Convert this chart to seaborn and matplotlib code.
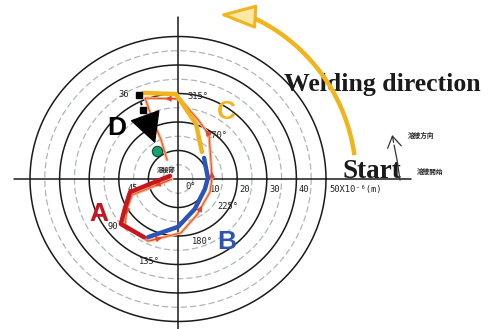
import numpy as np
import pandas as pd
import matplotlib
matplotlib.use("Agg")
import matplotlib.pyplot as plt
import seaborn as sns

# Pipe-centre displacement during one welding pass, in units of 1e-6 m
traj_x = [-2.0, -15.5, -17.2, -17.9, -10.1, 1.0, 6.4, 10.8, 11.5, 11.1, 10.5, 7.1, 0.7, -11.1, -8.8, -5.7, -3.7]
traj_y = [0.0, -5.6, -10.5, -16.1, -21.8, -18.9, -12.6, -4.6, 0.4, 6.7, 15.4, 20.4, 28.1, 28.4, 21.4, 13.7, 6.7]

# Stage A / B / C / D paths
a_x = [-2.7, -16.2, -17.9, -19.3, -11.5]
a_y = [1.1, -4.6, -10.2, -15.8, -20.4]
b_x = [-10.1, 0.0, 5.7, 9.1, 10.1, 8.8]
b_y = [-20.4, -16.8, -10.5, -3.5, 0.4, 7.4]
c_x = [8.1, 6.1, -0.7, -11.8]
c_y = [9.5, 19.3, 29.8, 30.2]
d_x = [-13.2, -11.8, -7.4]
d_y = [29.5, 24.2, 11.6]
end_x = [-7.1]
end_y = [9.8]

# Torch angle labels along the path
angle_labels = ["0°", "45", "90", "135°", "180°", "225°", "270°", "315°", "36"]
angle_lx = [4.1, -15.2, -22.2, -9.5, 8.1, 16.9, 13.2, 6.8, -18.2]
angle_ly = [-2.5, -3.2, -16.6, -29.1, -22.1, -9.5, 15.4, 28.8, 29.5]

ring_solid = [10, 20, 30, 40, 50]
ring_dashed = [5, 15, 25, 35, 45]
ring_labels = ["10", "20", "30", "40", "50X10⁻⁶(m)"]

sns.set_theme(style="white")
plt.rcParams['font.family'] = ['DejaVu Sans', 'Noto Sans CJK JP']

PX_X, PX_Y = 2.96, 2.85      # pixels per unit in x and y
CX, CY = 178, 179            # origin position in pixels
W, H = 492, 329

fig = plt.figure(figsize=(W / 100, H / 100), dpi=100)
ax = fig.add_axes([0, 0, 1, 1])
ax.set_xlim(-CX / PX_X, (W - CX) / PX_X)
ax.set_ylim(-(H - CY) / PX_Y, CY / PX_Y)
ax.axis('off')

# polar grid
th = np.linspace(0, 2 * np.pi, 500)
for r in ring_dashed:
    ax.plot(r * np.cos(th), r * np.sin(th), color='#aeb6bd', lw=0.9,
            ls=(0, (5, 2.5)), zorder=1)
for r in ring_solid:
    ax.plot(r * np.cos(th), r * np.sin(th), color='#1a1a1a', lw=1.1, zorder=1)
ax.plot([-55.4, 78.6], [0, 0], color='#1a1a1a', lw=1.1, zorder=2)
ax.plot([0, 0], [-53, 56.8], color='#1a1a1a', lw=1.1, zorder=2)

mono = dict(family='DejaVu Sans Mono', fontsize=6.3, color='#222222')
for r, lab in zip(ring_solid, ring_labels):
    if lab.startswith('50'):
        ax.text(r + 1.0, -3.6, lab, ha='left', va='center', **mono)
    else:
        ax.text(r + 2.6, -3.6, lab, ha='center', va='center', **mono)
for lab, x, y in zip(angle_labels, angle_lx, angle_ly):
    ax.text(x, y, lab, ha='center', va='center', **mono)
ax.text(-4.1, 3.4, "溶接部", ha='center', va='center', fontsize=4.5,
        family=['Noto Sans CJK JP', 'DejaVu Sans'], color='#222222', weight='bold')

# measured trajectory
traj = pd.DataFrame({'x': traj_x, 'y': traj_y})
sns.lineplot(data=traj, x='x', y='y', sort=False, estimator=None, ax=ax,
             color='#f6b27c', lw=2.2, zorder=3)
sns.lineplot(data=traj, x='x', y='y', sort=False, estimator=None, ax=ax,
             color='#e2452b', lw=0.6, zorder=4)
for i in range(0, len(traj_x) - 1, 2):
    mx = (traj_x[i] + traj_x[i + 1]) / 2
    my = (traj_y[i] + traj_y[i + 1]) / 2
    ax.annotate('', xy=(mx, my), xytext=(traj_x[i], traj_y[i]),
                arrowprops=dict(arrowstyle='-|>,head_length=0.35,head_width=0.18',
                                color='#e2452b', lw=0.6, mutation_scale=10),
                zorder=4)

# stage segments
for sx, sy, col in [(a_x, a_y, '#c8161f'), (b_x, b_y, '#2b56b8'), (c_x, c_y, '#f2b41d')]:
    sns.lineplot(x=sx, y=sy, sort=False, estimator=None, ax=ax, color=col,
                 lw=3.2, zorder=5)

# stage D: dotted approach + arrowhead to final position
ax.plot(d_x[:2], d_y[:2], color='black', lw=1.4, ls=(0, (1.5, 2.5)),
        marker='s', ms=3.8, zorder=6)
fx = d_x[1] + 0.5 * (d_x[2] - d_x[1])
fy = d_y[1] + 0.5 * (d_y[2] - d_y[1])
ax.plot([d_x[1], fx], [d_y[1], fy], color='black', lw=1.6, ls=(0, (1.5, 2)), zorder=6)
ax.annotate('', xy=(d_x[2], d_y[2]), xytext=(fx, fy),
            arrowprops=dict(arrowstyle='-|>,head_length=1.0,head_width=0.52',
                            color='black', lw=1.0, mutation_scale=20),
            zorder=6)
sns.scatterplot(x=end_x, y=end_y, ax=ax, s=55, color='#17a070',
                edgecolor='#0c4a34', linewidth=0.8, zorder=7)

letter = dict(family='Liberation Sans', weight='bold', fontsize=19, ha='center', va='center')
ax.text(-26.7, -12.3, 'A', color='#c8161f', **letter)
ax.text(16.6, -22.1, 'B', color='#2b56b8', **letter)
ax.text(16.2, 23.5, 'C', color='#f2b41d', **letter)
ax.text(-20.6, 17.9, 'D', color='black', **letter)

# welding direction arc
R_ARC = 178.0
phi = np.radians(np.linspace(7.7, 66, 200))
ax.plot(R_ARC * np.cos(phi) / PX_X, R_ARC * np.sin(phi) / PX_Y,
        color='#f2b41d', lw=3.2, solid_capstyle='butt', zorder=5)
p_end = np.radians(66)
ex, ey = R_ARC * np.cos(p_end), R_ARC * np.sin(p_end)
tx, ty = ex - 34, ey + 2
ax.annotate('', xy=(tx / PX_X, ty / PX_Y), xytext=(ex / PX_X, ey / PX_Y),
            arrowprops=dict(arrowstyle='-|>,head_length=1.5,head_width=0.5',
                            fc='#fde8a6', ec='#f2b41d', lw=2.2, mutation_scale=15),
            zorder=6)

serif = dict(family='Liberation Serif', weight='bold', color='#1a1a1a')
ax.text(68.9, 33.3, 'Welding direction', ha='center', va='center', fontsize=18.5, **serif)
ax.text(65.5, 0.2, 'Start', ha='center', va='baseline', fontsize=19.5, **serif)

# small direction mark
sx_ = [75.0, 74.0, 73.0, 72.4]
sy_ = [-0.4, 6.7, 11.9, 14.5]
ax.plot(sx_[:-1], sy_[:-1], color='#333333', lw=0.9, zorder=5)
ax.annotate('', xy=(72.2, 16.4), xytext=(sx_[2], sy_[2]),
            arrowprops=dict(arrowstyle='->,head_length=0.8,head_width=0.5',
                            color='#333333', lw=0.9, mutation_scale=10))
cjk = dict(family=['Noto Sans CJK JP', 'DejaVu Sans'], fontsize=4.8, weight='bold',
           color='#222222', va='center', ha='left')
ax.text(77.7, 15.1, '溶接方向', **cjk)
ax.text(80.7, 2.5, '溶接開始', **cjk)

fig.savefig('out.png', dpi=100, facecolor='white')
